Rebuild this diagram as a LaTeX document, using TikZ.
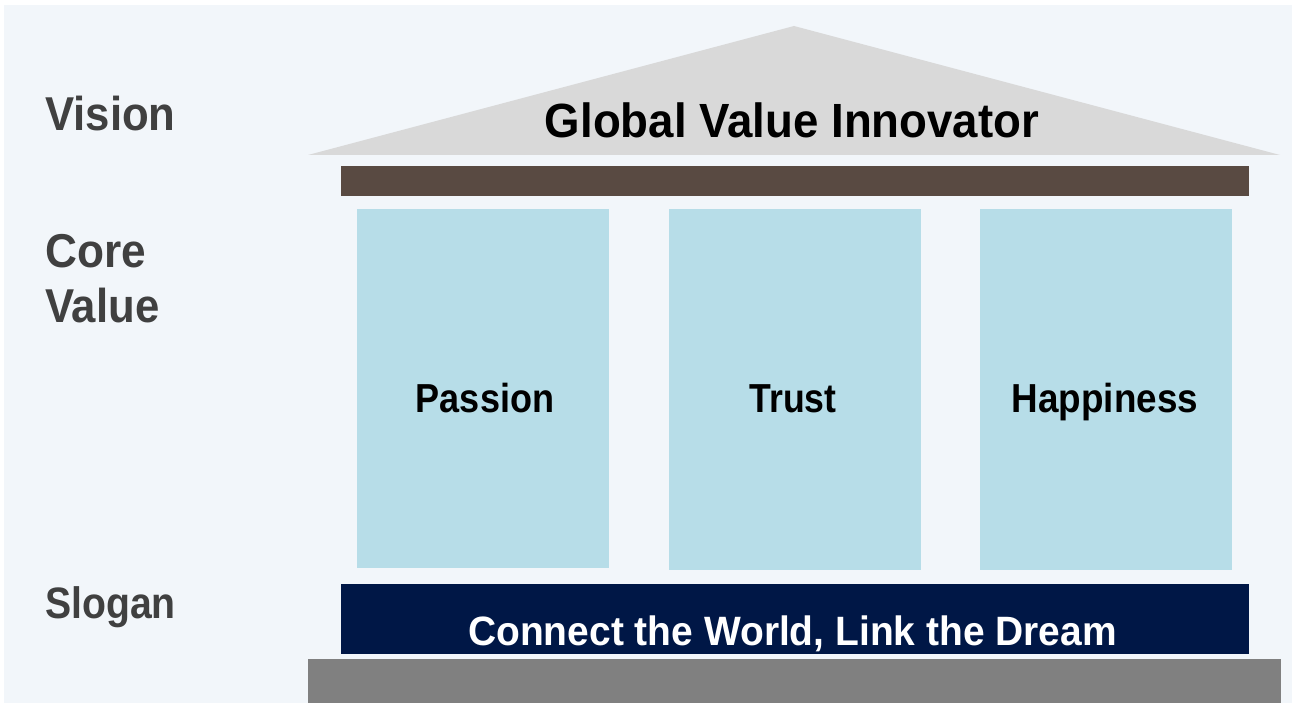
\documentclass[tikz,border=0pt]{standalone}
\usepackage{fontspec}
\usepackage{graphicx}
\setmainfont{Liberation Sans}
\definecolor{bgpanel}{HTML}{F2F6FA}
\definecolor{roofgray}{HTML}{D9D9D9}
\definecolor{beambrown}{HTML}{594A42}
\definecolor{pillarblue}{HTML}{B7DDE8}
\definecolor{navyband}{HTML}{001746}
\definecolor{basegray}{HTML}{808080}
\definecolor{labelgray}{HTML}{404040}
\newcommand{\condtext}[2]{\scalebox{#1}[1]{#2}}
\tikzset{
  sidelabel/.style={anchor=base west, inner sep=0pt, text=labelgray, align=left},
  centertext/.style={anchor=base, inner sep=0pt},
  block/.style={inner sep=0pt, outer sep=0pt}
}
\begin{document}
\begin{tikzpicture}[x=1pt,y=-1pt]
\useasboundingbox (0,0) rectangle (1297,703);
\fill[white] (0,0) rectangle (1297,703);
\fill[bgpanel] (4,5) rectangle (1292,703);
% roof
\fill[roofgray] (308,155) -- (794,26) -- (1280,155) -- cycle;
% beam
\fill[beambrown] (341,166) rectangle (1249,196);
% pillars
\fill[pillarblue] (357,209) rectangle (609,568);
\fill[pillarblue] (669,209) rectangle (921,570);
\fill[pillarblue] (980,209) rectangle (1232,570);
% slogan band
\fill[navyband] (341,584) rectangle (1249,654);
% base
\fill[basegray] (308,659) rectangle (1281,703);
% side labels
\node[sidelabel, font=\fontsize{47.5}{55}\selectfont\bfseries] (vision) at (45,131) {\condtext{0.92}{Vision}};
\node[sidelabel, font=\fontsize{47.5}{55}\selectfont\bfseries] (core) at (45,322) {\condtext{0.93}{Core}\\\condtext{0.92}{Value}};
\node[sidelabel, font=\fontsize{44}{50}\selectfont\bfseries] (slogan) at (45,618) {\condtext{0.89}{Slogan}};
% texts
\node[centertext, font=\fontsize{48}{55}\selectfont\bfseries, text=black] (gvi) at (792,138) {\condtext{0.95}{Global Value Innovator}};
\node[centertext, font=\fontsize{40.5}{46}\selectfont\bfseries, text=black] (passion) at (485,412) {\condtext{0.89}{Passion}};
\node[centertext, font=\fontsize{40.5}{46}\selectfont\bfseries, text=black] (trust) at (793,412) {\condtext{0.88}{Trust}};
\node[centertext, font=\fontsize{40.5}{46}\selectfont\bfseries, text=black] (happy) at (1105,412) {\condtext{0.91}{Happiness}};
\node[centertext, font=\fontsize{41}{46}\selectfont\bfseries, text=white] (connect) at (792.5,645) {\condtext{0.95}{Connect the World, Link the Dream}};
\end{tikzpicture}
\end{document}
